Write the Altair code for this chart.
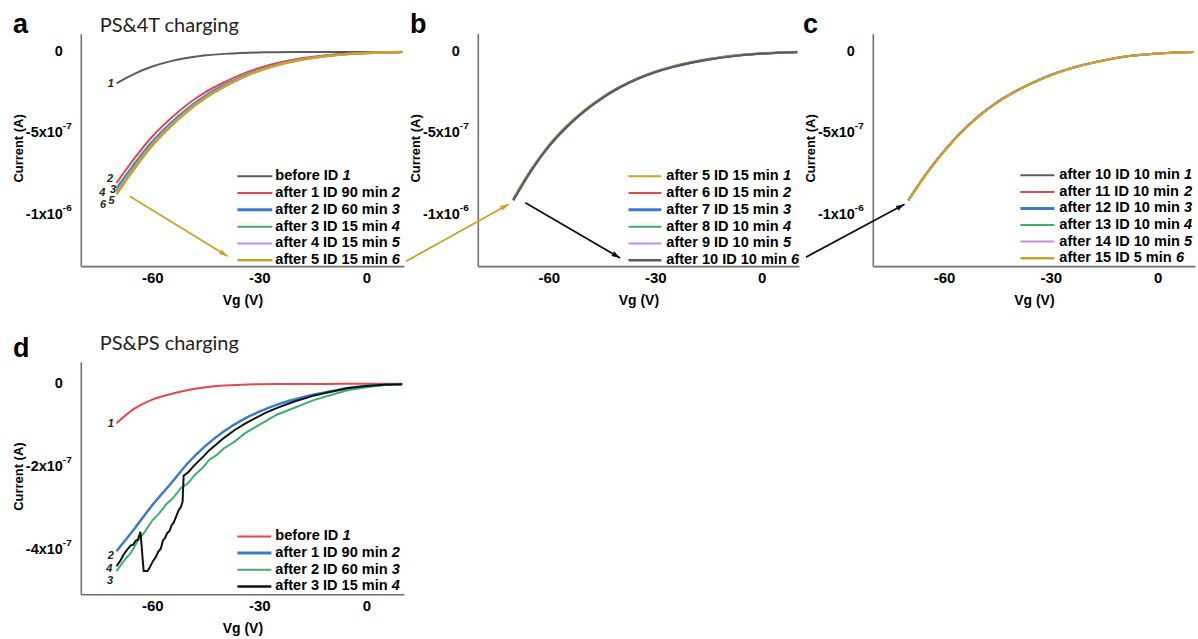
import math
import altair as alt
import pandas as pd

LABEL_FONT = "Liberation Sans"
HEAD_FONT = "Lato"

GREY = "#5b5b5b"
RED = "#e5474d"
BLUE = "#3c7bcc"
GREEN = "#3fae6f"
PURPLE = "#c28ee3"
GOLD = "#c9a22b"
BLACK = "#111111"
AXIS_GREY = "#707070"

X_DOMAIN = [-80.0, 10.5]
ABC_Y_DOMAIN = [-1.317e-6, 0.112e-6]
D_Y_DOMAIN = [-0.508e-6, 0.053e-6]

# ---------------- data (current in units of 1e-6 A) ----------------
VG = [-70, -65, -60, -55, -50, -45, -40, -35, -30, -25, -20, -15, -10, -5, 0, 5, 10]

# panel a: PS&4T charging
a_before = [-0.193, -0.135, -0.090, -0.058, -0.036, -0.021, -0.012, -0.006, -0.003, -0.0015, -0.0008, -0.0004, -0.0002, -0.0001, 0.0, 0.0, 0.0]
a_after1 = [-0.806, -0.655, -0.520, -0.412, -0.320, -0.246, -0.188, -0.138, -0.098, -0.068, -0.046, -0.030, -0.018, -0.010, -0.005, -0.002, -0.001]
a_after2 = [-0.840, -0.690, -0.553, -0.442, -0.347, -0.268, -0.206, -0.153, -0.110, -0.077, -0.053, -0.035, -0.021, -0.012, -0.006, -0.003, -0.001]
a_after3 = [-0.850, -0.699, -0.561, -0.449, -0.353, -0.273, -0.210, -0.156, -0.112, -0.079, -0.054, -0.036, -0.022, -0.012, -0.006, -0.003, -0.001]
a_after4 = [-0.862, -0.708, -0.568, -0.455, -0.358, -0.277, -0.213, -0.158, -0.114, -0.080, -0.055, -0.036, -0.022, -0.013, -0.006, -0.003, -0.001]
a_after5 = [-0.875, -0.718, -0.576, -0.462, -0.364, -0.282, -0.217, -0.161, -0.116, -0.082, -0.056, -0.037, -0.023, -0.013, -0.007, -0.003, -0.001]
a_legend = ["before ID", "after 1 ID 90 min", "after 2 ID 60 min", "after 3 ID 15 min", "after 4 ID 15 min", "after 5 ID 15 min"]
a_nums = ["1", "2", "3", "4", "5", "6"]
a_curve_tags = ["1", "2", "3", "4", "5", "6"]
a_curve_tag_vg = [-71.6, -71.8, -71.0, -74.0, -71.4, -73.8]
a_curve_tag_i = [-0.200, -0.780, -0.846, -0.866, -0.918, -0.942]

# panel b
b_after5 = [-0.904, -0.724, -0.575, -0.457, -0.360, -0.280, -0.215, -0.162, -0.121, -0.089, -0.064, -0.044, -0.028, -0.017, -0.009, -0.004, -0.001]
b_after6 = [-0.908, -0.728, -0.578, -0.460, -0.363, -0.283, -0.217, -0.164, -0.123, -0.091, -0.065, -0.045, -0.029, -0.018, -0.010, -0.004, -0.001]
b_after7 = [-0.909, -0.729, -0.579, -0.461, -0.364, -0.284, -0.217, -0.164, -0.123, -0.091, -0.066, -0.046, -0.030, -0.018, -0.010, -0.004, -0.001]
b_after8 = [-0.910, -0.730, -0.580, -0.462, -0.365, -0.284, -0.218, -0.165, -0.124, -0.092, -0.066, -0.046, -0.030, -0.018, -0.011, -0.005, -0.002]
b_after9 = [-0.911, -0.731, -0.581, -0.463, -0.365, -0.285, -0.218, -0.165, -0.124, -0.092, -0.066, -0.046, -0.030, -0.018, -0.011, -0.005, -0.002]
b_after10 = [-0.913, -0.733, -0.582, -0.464, -0.366, -0.286, -0.219, -0.166, -0.125, -0.093, -0.067, -0.047, -0.031, -0.019, -0.011, -0.005, -0.002]
b_legend = ["after 5 ID 15 min", "after 6 ID 15 min", "after 7 ID 15 min", "after 8 ID 10 min", "after 9 ID 10 min", "after 10 ID 10 min"]

# panel c
c_after10 = [-0.910, -0.749, -0.609, -0.489, -0.389, -0.307, -0.243, -0.188, -0.141, -0.104, -0.075, -0.051, -0.031, -0.018, -0.010, -0.004, -0.001]
c_after11 = [-0.911, -0.750, -0.610, -0.490, -0.390, -0.308, -0.243, -0.189, -0.142, -0.104, -0.075, -0.051, -0.032, -0.019, -0.010, -0.004, -0.001]
c_after12 = [-0.911, -0.750, -0.610, -0.490, -0.390, -0.308, -0.244, -0.189, -0.142, -0.105, -0.076, -0.052, -0.032, -0.019, -0.010, -0.004, -0.001]
c_after13 = [-0.912, -0.751, -0.611, -0.491, -0.391, -0.309, -0.244, -0.189, -0.142, -0.105, -0.076, -0.052, -0.032, -0.019, -0.010, -0.004, -0.001]
c_after14 = [-0.912, -0.751, -0.611, -0.491, -0.391, -0.309, -0.245, -0.190, -0.143, -0.105, -0.076, -0.052, -0.032, -0.019, -0.010, -0.004, -0.001]
c_after15 = [-0.913, -0.752, -0.612, -0.492, -0.392, -0.310, -0.245, -0.190, -0.143, -0.105, -0.076, -0.052, -0.032, -0.019, -0.010, -0.004, -0.001]
c_legend = ["after 10 ID 10 min", "after 11 ID 10 min", "after 12 ID 10 min", "after 13 ID 10 min", "after 14 ID 10 min", "after 15 ID 5 min"]

# panel d: PS&PS charging
d_before = [-0.095, -0.060, -0.038, -0.025, -0.015, -0.008, -0.004, -0.002, -0.001, -0.0005, -0.0003, -0.0002, -0.0001, 0.0, 0.0, 0.0, 0.0]
d_after1 = [-0.404, -0.350, -0.293, -0.243, -0.191, -0.149, -0.115, -0.088, -0.067, -0.050, -0.037, -0.026, -0.018, -0.010, -0.005, -0.002, -0.001]
d_vg_after2 = [-70, -68, -66, -64, -62, -60, -58, -56, -54, -52, -50, -48, -46, -44, -42, -40, -37, -34, -31, -28, -25, -20, -15, -10, -5, 0, 5, 10]
d_after2 = [-0.452, -0.428, -0.408, -0.378, -0.356, -0.330, -0.312, -0.290, -0.274, -0.252, -0.240, -0.219, -0.204, -0.183, -0.172, -0.156, -0.140, -0.119, -0.104, -0.089, -0.074, -0.057, -0.040, -0.027, -0.015, -0.008, -0.003, -0.001]
d_vg_after3 = [-70, -69, -68, -67, -66, -65.3, -64.6, -64, -63.3, -62.7, -62.4, -61.3, -60.5, -59.8, -59, -58.3, -57.6, -57, -56.4, -55.8, -55.2, -54.5, -54, -53.2, -52.6, -52, -51.5, -51.2, -50, -48, -46, -44, -42, -40, -37, -34, -31, -28, -25, -20, -15, -10, -5, 0, 5, 10]
d_after3 = [-0.440, -0.428, -0.412, -0.400, -0.390, -0.388, -0.378, -0.376, -0.357, -0.420, -0.452, -0.452, -0.440, -0.428, -0.418, -0.405, -0.398, -0.378, -0.372, -0.360, -0.356, -0.340, -0.335, -0.318, -0.305, -0.298, -0.285, -0.222, -0.214, -0.195, -0.178, -0.160, -0.146, -0.131, -0.112, -0.096, -0.082, -0.069, -0.058, -0.042, -0.029, -0.019, -0.010, -0.005, -0.002, -0.001]
d_legend = ["before ID", "after 1 ID 90 min", "after 2 ID 60 min", "after 3 ID 15 min"]
d_nums = ["1", "2", "3", "4"]
d_curve_tags = ["1", "2", "4", "3"]
d_curve_tag_vg = [-71.6, -71.6, -72.0, -71.8]
d_curve_tag_i = [-0.096, -0.415, -0.446, -0.476]

# y tick labels
abc_tick_vals = [0.0, -0.5e-6, -1.0e-6]
abc_tick_main = ["0", "-5x10", "-1x10"]
abc_tick_sup = ["", "-7", "-6"]
d_tick_vals = [0.0, -0.2e-6, -0.4e-6]
d_tick_main = ["0", "-2x10", "-4x10"]
d_tick_sup = ["", "-7", "-7"]
x_tick_vals = [-60, -30, 0]

# arrows (Vg, current in 1e-6 A): tail -> head
a_arrows = [(-66.3, -0.888, -38.9, -1.256, GOLD)]
b_arrows = [(-100.2, -1.287, -71.3, -0.937, GOLD), (-66.6, -0.927, -39.9, -1.267, BLACK)]
c_arrows = [(-98.8, -1.262, -71.1, -0.937, BLACK)]

ARIAL_BOLD = {" ": 278, "a": 556, "b": 611, "d": 611, "e": 556, "f": 333, "i": 278, "m": 889,
              "n": 611, "o": 611, "r": 389, "t": 333, "I": 278, "D": 722}
ARROW_PATH = "M0,0L-0.55,1.7L0.55,1.7Z"
ONE = pd.DataFrame({"k": [0]})


def text_width(s, size):
    return sum(ARIAL_BOLD.get(ch, 556) for ch in s) * size / 1000.0


def build_panel(width, height, ydomain, series, ticks, legend, legend_geom,
                letter, letter_xy, heading, heading_xy, tags, arrows, anchor=False):
    xs = alt.Scale(domain=X_DOMAIN, nice=False, zero=False)
    ys = alt.Scale(domain=ydomain, nice=False, zero=False)
    x_axis = alt.Axis(values=x_tick_vals, labelExpr="'' + datum.value", title="Vg (V)",
                      grid=False, ticks=False, domainColor=AXIS_GREY, domainWidth=1.6,
                      labelFont=LABEL_FONT, labelFontWeight="bold", labelFontSize=15,
                      labelColor="black", labelPadding=4, labelFlush=False,
                      titleFont=LABEL_FONT, titleFontWeight="bold", titleFontSize=14,
                      titleColor="black", titleX=width / 2, titleY=34,
                      titleBaseline="middle", titleAlign="center")
    y_axis = alt.Axis(labels=False, ticks=False, grid=False, domainColor=AXIS_GREY,
                      domainWidth=1.6, title="Current (A)", titleFont=LABEL_FONT,
                      titleFontWeight="bold", titleFontSize=13, titleColor="black",
                      titleX=-62, titleY=height / 2 - 2, titleAngle=270,
                      titleBaseline="middle", titleAlign="center")

    def xe(field):
        return alt.X(f"{field}:Q", scale=xs)

    def ye(field):
        return alt.Y(f"{field}:Q", scale=ys)

    layers = []
    first = True
    for vg, vals, color, sw, interp in series:
        df = pd.DataFrame({"Vg": vg, "I": [v * 1e-6 for v in vals]})
        if first:
            enc = dict(x=alt.X("Vg:Q", scale=xs, axis=x_axis), y=alt.Y("I:Q", scale=ys, axis=y_axis))
        else:
            enc = dict(x=xe("Vg"), y=ye("I"))
        layers.append(alt.Chart(df).mark_line(color=color, strokeWidth=sw, interpolate=interp).encode(**enc))
        first = False

    tv, tm, tsup = ticks
    tdf = pd.DataFrame({"I": tv, "main": tm, "sup": tsup})
    layers.append(alt.Chart(tdf).mark_text(align="right", baseline="middle", font=LABEL_FONT,
                                           fontWeight="bold", fontSize=14.5, color="black").encode(
        x=alt.value(-18), y=ye("I"), text="main:N"))
    layers.append(alt.Chart(tdf).mark_text(align="left", baseline="middle", font=LABEL_FONT,
                                           fontWeight="bold", fontSize=10, dy=-7, color="black").encode(
        x=alt.value(-18), y=ye("I"), text="sup:N"))

    if tags is not None:
        tg_text, tg_vg, tg_i = tags
        gdf = pd.DataFrame({"t": tg_text, "Vg": tg_vg, "I": [v * 1e-6 for v in tg_i]})
        layers.append(alt.Chart(gdf).mark_text(align="center", baseline="middle", font=LABEL_FONT,
                                               fontWeight="bold", fontStyle="italic", fontSize=11,
                                               color="#222222").encode(
            x=xe("Vg"), y=ye("I"), text="t:N"))

    kx = width / (X_DOMAIN[1] - X_DOMAIN[0])
    ky = height / ((ydomain[1] - ydomain[0]) * 1e6)
    for x1, y1, x2, y2, color in arrows:
        adf = pd.DataFrame({"Vg": [x1], "I": [y1 * 1e-6], "Vg2": [x2], "I2": [y2 * 1e-6]})
        layers.append(alt.Chart(adf).mark_rule(color=color, strokeWidth=1.8).encode(
            x=xe("Vg"), y=ye("I"), x2="Vg2:Q", y2="I2:Q"))
        dxp = (x2 - x1) * kx
        dyp = -(y2 - y1) * ky
        ang = math.degrees(math.atan2(dxp, -dyp)) % 360
        hdf = pd.DataFrame({"Vg": [x2], "I": [y2 * 1e-6]})
        layers.append(alt.Chart(hdf).mark_point(shape=ARROW_PATH, filled=True, size=100, angle=ang,
                                                color=color, opacity=1, strokeWidth=0).encode(
            x=xe("Vg"), y=ye("I")))

    labels, nums, colors, widths = legend
    lx0, lx1, tx, ly0, ldy, fs = legend_geom
    for i, (lab, num, col, sw) in enumerate(zip(labels, nums, colors, widths)):
        yy = ly0 + i * ldy
        layers.append(alt.Chart(ONE).mark_rule(color=col, strokeWidth=sw).encode(
            x=alt.value(lx0), x2=alt.value(lx1), y=alt.value(yy)))
        layers.append(alt.Chart(ONE).mark_text(align="left", baseline="middle", font=LABEL_FONT,
                                               fontWeight="bold", fontSize=fs, color="black").encode(
            x=alt.value(tx), y=alt.value(yy), text=alt.value(lab)))
        layers.append(alt.Chart(ONE).mark_text(align="left", baseline="middle", font=LABEL_FONT,
                                               fontWeight="bold", fontStyle="italic", fontSize=fs,
                                               color="black").encode(
            x=alt.value(tx + text_width(lab + " ", fs)), y=alt.value(yy), text=alt.value(num)))

    layers.append(alt.Chart(ONE).mark_text(align="left", baseline="alphabetic", font=LABEL_FONT,
                                           fontWeight="bold", fontSize=27, color="black").encode(
        x=alt.value(letter_xy[0]), y=alt.value(letter_xy[1]), text=alt.value(letter)))
    if heading:
        layers.append(alt.Chart(ONE).mark_text(align="left", baseline="alphabetic", font=HEAD_FONT,
                                               fontSize=20, color="#222222").encode(
            x=alt.value(heading_xy[0]), y=alt.value(heading_xy[1]), text=alt.value(heading)))
    if anchor:
        layers.append(alt.Chart(ONE).mark_rule(opacity=0, strokeWidth=0.01).encode(
            x=alt.value(-81), x2=alt.value(-80), y=alt.value(-33)))
    return alt.layer(*layers).properties(width=width, height=height)


HA = 233
pa = build_panel(
    324, HA, ABC_Y_DOMAIN,
    [(VG, a_before, GREY, 2, "monotone"), (VG, a_after1, RED, 2, "monotone"),
     (VG, a_after2, BLUE, 2.5, "monotone"), (VG, a_after3, GREEN, 2, "monotone"),
     (VG, a_after4, PURPLE, 2, "monotone"), (VG, a_after5, GOLD, 2.5, "monotone")],
    (abc_tick_vals, abc_tick_main, abc_tick_sup),
    (a_legend, a_nums, [GREY, RED, BLUE, GREEN, PURPLE, GOLD], [2, 2, 3, 2, 2, 2.5]),
    (157, 192, 195, 143, 16.8, 14.6),
    "a", (-68, -1), "PS&4T charging", (19, -1.5),
    (a_curve_tags, a_curve_tag_vg, a_curve_tag_i), a_arrows, anchor=True)

pb = build_panel(
    322, HA, ABC_Y_DOMAIN,
    [(VG, b_after5, GOLD, 2.5, "monotone"), (VG, b_after6, RED, 2, "monotone"),
     (VG, b_after7, BLUE, 2, "monotone"), (VG, b_after8, GREEN, 2, "monotone"),
     (VG, b_after9, PURPLE, 2, "monotone"), (VG, b_after10, GREY, 2.2, "monotone")],
    (abc_tick_vals, abc_tick_main, abc_tick_sup),
    (b_legend, a_nums, [GOLD, RED, BLUE, GREEN, PURPLE, GREY], [2, 2, 3, 2, 2, 2.5]),
    (151, 184, 189, 143, 16.8, 14.6),
    "b", (-68, -1), "", (0, 0), None, b_arrows)

pc = build_panel(
    323, HA, ABC_Y_DOMAIN,
    [(VG, c_after10, GREY, 2, "monotone"), (VG, c_after11, RED, 2, "monotone"),
     (VG, c_after12, BLUE, 2, "monotone"), (VG, c_after13, GREEN, 2, "monotone"),
     (VG, c_after14, PURPLE, 2, "monotone"), (VG, c_after15, GOLD, 2.2, "monotone")],
    (abc_tick_vals, abc_tick_main, abc_tick_sup),
    (c_legend, a_nums, [GREY, RED, BLUE, GREEN, PURPLE, GOLD], [2, 2, 3, 2, 2, 2.5]),
    (148, 182, 187, 142, 16.6, 14.6),
    "c", (-70, -1), "", (0, 0), None, c_arrows)

pd_ = build_panel(
    324, HA, D_Y_DOMAIN,
    [(VG, d_before, RED, 2, "monotone"), (VG, d_after1, BLUE, 2.5, "monotone"),
     (d_vg_after2, d_after2, GREEN, 2, "linear"), (d_vg_after3, d_after3, BLACK, 2, "linear")],
    (d_tick_vals, d_tick_main, d_tick_sup),
    (d_legend, d_nums, [RED, BLUE, GREEN, BLACK], [2, 3, 2, 2.5]),
    (157, 191, 195, 175, 16.7, 14.6),
    "d", (-68, -5), "PS&PS charging", (19, -12),
    (d_curve_tags, d_curve_tag_vg, d_curve_tag_i), [])

chart = alt.concat(pa, pb, pc, pd_, columns=3, spacing={"row": 96, "column": 74},
                   bounds="flush", align="each").properties(padding=0).configure(
    background="white").configure_view(stroke=None)

chart.save("out.html", embed_options={"renderer": "svg", "actions": False})
